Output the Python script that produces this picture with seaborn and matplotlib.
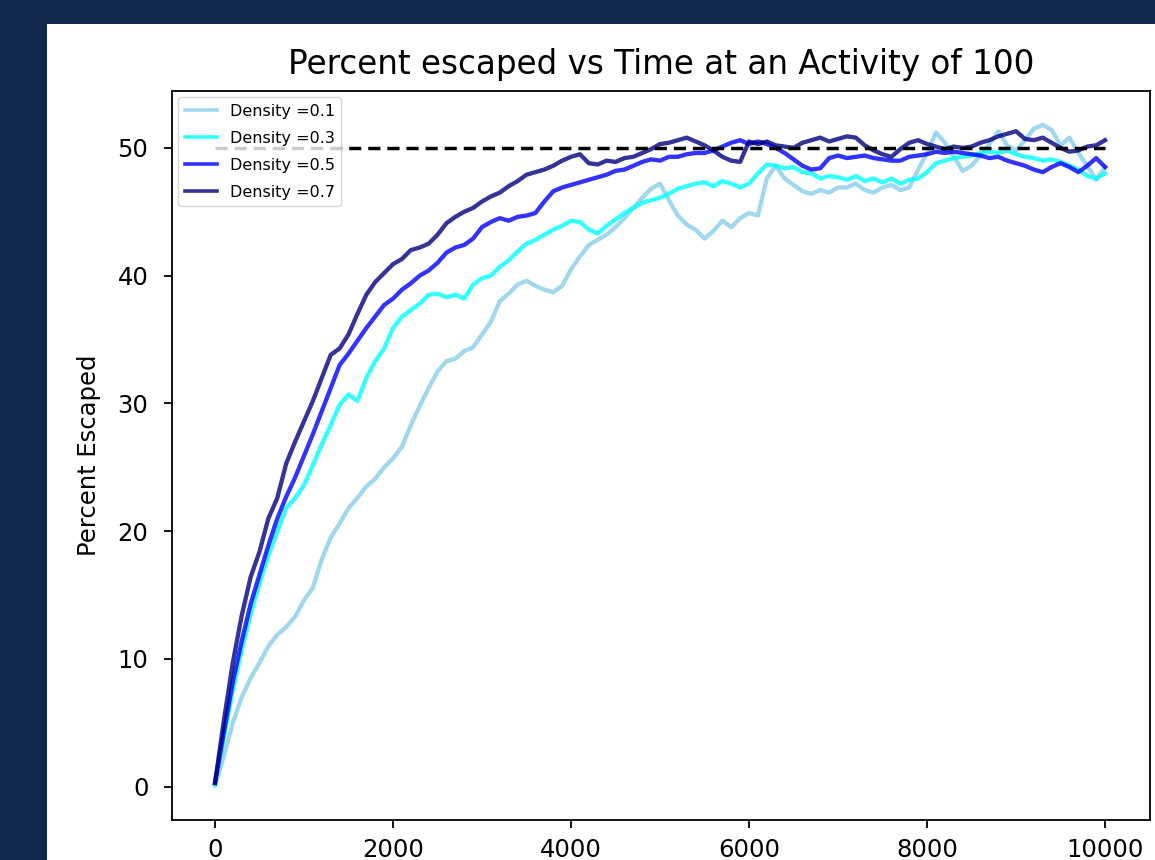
import numpy as np
import pandas as pd
import matplotlib
matplotlib.use("Agg")
import matplotlib.pyplot as plt
import seaborn as sns
from matplotlib.patches import Rectangle

# ---------------- data ----------------
time_steps = list(range(0, 10001, 100))

density_labels = ["Density =0.1", "Density =0.3", "Density =0.5", "Density =0.7"]
line_colors = ["skyblue", "cyan", "blue", "navy"]

pct_d01 = [0.1, 2.4, 5.0, 7.0, 8.5, 9.7, 11.0, 11.9, 12.5, 13.3,
           14.6, 15.6, 17.8, 19.5, 20.6, 21.8, 22.6, 23.5, 24.1, 25.0,
           25.7, 26.6, 28.3, 29.8, 31.2, 32.5, 33.3, 33.5, 34.1, 34.4,
           35.4, 36.4, 38.0, 38.6, 39.3, 39.6, 39.2, 38.9, 38.7, 39.2,
           40.5, 41.5, 42.4, 42.8, 43.2, 43.8, 44.5, 45.3, 46.1, 46.8,
           47.2, 45.9, 44.7, 44.0, 43.6, 42.9, 43.5, 44.3, 43.8, 44.5,
           44.9, 44.7, 47.6, 48.6, 47.6, 47.1, 46.6, 46.4, 46.7, 46.5,
           46.9, 46.9, 47.2, 46.7, 46.5, 46.9, 47.1, 46.7, 46.9, 48.3,
           49.6, 51.2, 50.4, 49.3, 48.2, 48.6, 49.4, 50.3, 51.3, 50.2,
           49.8, 50.6, 51.5, 51.8, 51.4, 50.2, 50.8, 49.6, 48.6, 47.5,
           48.5]

pct_d03 = [0.2, 3.9, 7.6, 10.7, 13.5, 15.9, 18.1, 20.0, 21.8, 22.6,
           23.6, 25.2, 26.8, 28.3, 29.9, 30.7, 30.2, 32.0, 33.3, 34.3,
           35.9, 36.8, 37.3, 37.8, 38.5, 38.6, 38.3, 38.5, 38.2, 39.3,
           39.8, 40.0, 40.7, 41.2, 41.9, 42.5, 42.8, 43.2, 43.6, 43.9,
           44.3, 44.2, 43.6, 43.3, 43.9, 44.4, 44.9, 45.3, 45.7, 45.9,
           46.1, 46.4, 46.8, 47.0, 47.2, 47.3, 47.0, 47.4, 47.2, 46.9,
           47.2, 48.0, 48.7, 48.6, 48.4, 48.5, 48.1, 48.0, 47.6, 47.8,
           47.7, 47.5, 47.8, 47.4, 47.6, 47.3, 47.6, 47.2, 47.5, 47.6,
           48.1, 48.8, 49.0, 49.2, 49.3, 49.4, 49.6, 49.7, 49.6, 49.8,
           49.5, 49.3, 49.2, 49.0, 49.1, 48.9, 48.6, 48.3, 47.8, 47.6,
           48.0]

pct_d05 = [0.3, 4.3, 8.2, 11.4, 14.3, 16.6, 18.9, 21.0, 22.7, 24.2,
           25.9, 27.6, 29.4, 31.2, 33.0, 33.9, 34.9, 35.9, 36.8, 37.7,
           38.2, 38.9, 39.4, 40.0, 40.4, 41.0, 41.8, 42.2, 42.4, 42.9,
           43.8, 44.2, 44.5, 44.3, 44.6, 44.7, 44.9, 45.8, 46.6, 46.9,
           47.1, 47.3, 47.5, 47.7, 47.9, 48.2, 48.3, 48.6, 48.9, 49.1,
           49.0, 49.3, 49.3, 49.5, 49.6, 49.6, 49.8, 50.1, 50.4, 50.6,
           50.3, 50.5, 50.3, 50.0, 49.6, 49.1, 48.6, 48.3, 48.4, 49.2,
           49.4, 49.2, 49.3, 49.4, 49.2, 49.1, 49.0, 49.0, 49.3, 49.4,
           49.5, 49.7, 49.6, 49.7, 49.6, 49.5, 49.4, 49.2, 49.3, 49.0,
           48.8, 48.6, 48.3, 48.1, 48.5, 48.8, 48.5, 48.1, 48.6, 49.2,
           48.5]

pct_d07 = [0.3, 5.2, 9.7, 13.4, 16.4, 18.4, 21.0, 22.6, 25.3, 27.0,
           28.6, 30.2, 32.0, 33.8, 34.3, 35.4, 37.0, 38.5, 39.5, 40.2,
           40.9, 41.3, 42.0, 42.2, 42.5, 43.2, 44.1, 44.6, 45.0, 45.3,
           45.8, 46.2, 46.5, 47.0, 47.4, 47.9, 48.1, 48.3, 48.6, 49.0,
           49.3, 49.5, 48.8, 48.7, 49.0, 48.9, 49.2, 49.3, 49.6, 49.9,
           50.3, 50.4, 50.6, 50.8, 50.5, 50.2, 49.8, 49.3, 49.0, 48.9,
           50.5, 50.3, 50.5, 50.2, 50.1, 50.0, 50.4, 50.6, 50.8, 50.5,
           50.7, 50.9, 50.8, 50.2, 49.8, 49.5, 49.3, 49.9, 50.4, 50.6,
           50.3, 50.1, 49.9, 50.1, 50.0, 50.1, 50.4, 50.6, 50.9, 51.1,
           51.3, 50.7, 50.6, 50.8, 50.4, 50.0, 49.7, 49.8, 50.1, 50.2,
           50.6]

target_level = 50
x_ticks = [0, 2000, 4000, 6000, 8000, 10000]
y_ticks = [0, 10, 20, 30, 40, 50]

title_text = "Percent escaped vs Time at an Activity of 100"
y_label_text = "Percent Escaped"

# ---------------- figure ----------------
W, H = 1155, 860
fig = plt.figure(figsize=(W / 100, H / 100), dpi=100)
fig.patch.set_facecolor("#13284a")
bg = Rectangle((47 / W, 0), 1 - 47 / W, 1 - 24 / H,
               transform=fig.transFigure, facecolor="white",
               edgecolor="none", zorder=-10)
fig.add_artist(bg)

ax = fig.add_axes([172 / W, 1 - 820 / H, (1150 - 172) / W, (820 - 91) / H])
ax.set_zorder(5)
ax.set_facecolor("white")

series = [pct_d01, pct_d03, pct_d05, pct_d07]
for lab, col, vals in zip(density_labels, line_colors, series):
    df = pd.DataFrame({"Time": time_steps, "Percent": vals})
    sns.lineplot(data=df, x="Time", y="Percent", color=col, alpha=0.8,
                 linewidth=3.1, label=lab, ax=ax)

ax.plot([time_steps[0], time_steps[-1]], [target_level, target_level],
        color="black", linestyle=(0, (3.5, 2.0)), linewidth=2.5, zorder=5)

ax.set_xlim(-483, 10505)
ax.set_ylim(-2.6, 54.45)
ax.set_xticks(x_ticks)
ax.set_yticks(y_ticks)
ax.tick_params(labelsize=17.5, length=6, width=1.3)
ax.tick_params(axis="y", pad=11)
ax.tick_params(axis="x", pad=7)
for s in ax.spines.values():
    s.set_linewidth(1.3)

ax.set_xlabel("")
ax.set_ylabel(y_label_text, fontsize=17.5)
ax.yaxis.set_label_coords((101 - 172) / (1150 - 172), 0.5)
ax.set_title(title_text, fontsize=23.5, pad=12)

leg = ax.legend(loc="upper left", fontsize=11.5, borderaxespad=0.4,
                labelspacing=0.75)
for h in leg.get_lines():
    h.set_linewidth(2.6)

fig.savefig("out.png", dpi=100, facecolor=fig.get_facecolor())
